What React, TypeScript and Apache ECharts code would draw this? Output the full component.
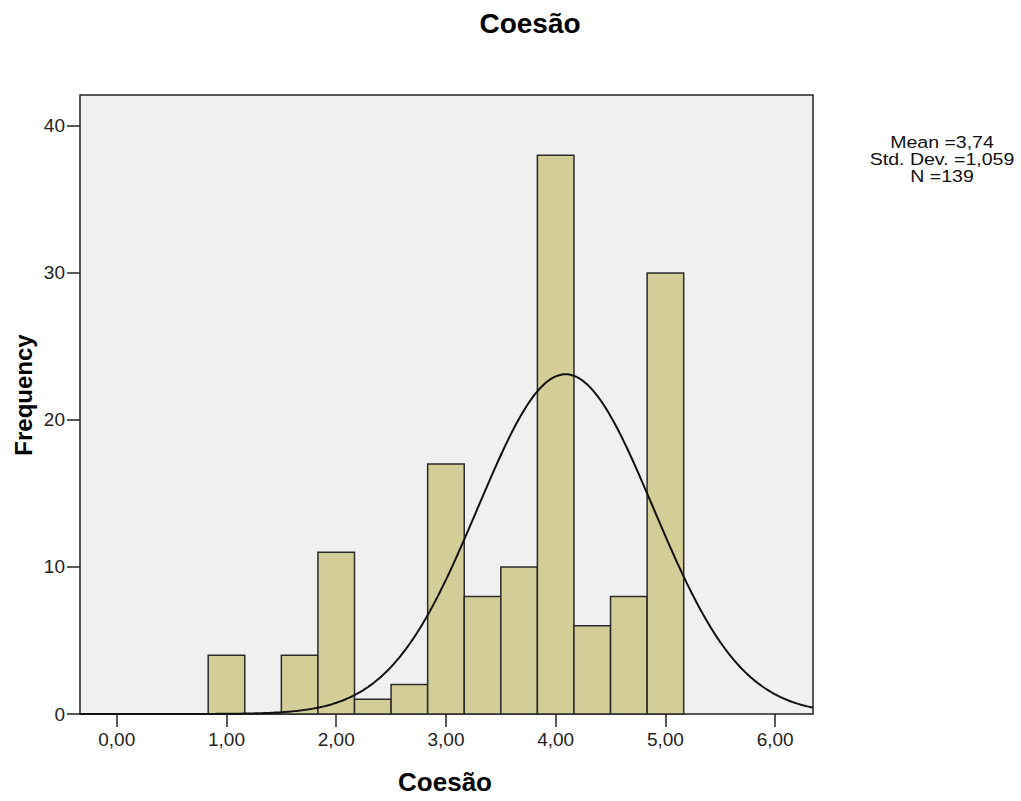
import React, { useEffect, useRef } from "react";
import * as echarts from "echarts";

// Histogram bins: lower edge of the first bin, common width, and counts per bin
const binStart = 0.8333;
const binWidth = 1 / 3;
const binCounts = [4, 0, 4, 11, 1, 2, 17, 8, 10, 38, 6, 8, 30];

// Fitted normal curve parameters as drawn
const curveMean = 4.09;
const curveSd = 0.8;
const sampleSize = 139;

// Axis tick values and summary statistics text
const xTicks = [0, 1, 2, 3, 4, 5, 6];
const yTicks = [0, 10, 20, 30, 40];
const statLines = ["Mean =3,74", "Std. Dev. =1,059", "N =139"];

const xMin = -0.335;
const xMax = 6.345;
const yMax = 42.1;

const FONT = '"Liberation Sans", Arial, sans-serif';

export default function App() {
  const ref = useRef<HTMLDivElement>(null);

  useEffect(() => {
    document.body.style.margin = "0";
    if (!ref.current) return;
    const chart = echarts.init(ref.current, null, { renderer: "svg" });

    const bars = binCounts.map((c, i) => [
      binStart + i * binWidth,
      binStart + (i + 1) * binWidth,
      c,
    ]);

    const peakScale = (sampleSize * binWidth) / (curveSd * Math.sqrt(2 * Math.PI));
    const curve: number[][] = [];
    const steps = 400;
    for (let i = 0; i <= steps; i++) {
      const x = xMin + ((xMax - xMin) * i) / steps;
      const z = (x - curveMean) / curveSd;
      curve.push([x, peakScale * Math.exp(-0.5 * z * z)]);
    }

    chart.setOption({
      animation: false,
      backgroundColor: "#ffffff",
      grid: {
        left: 80,
        top: 95,
        right: 208,
        bottom: 87,
        show: true,
        backgroundColor: "#F0F0F0",
        borderColor: "#222222",
        borderWidth: 1.5,
      },
      xAxis: {
        type: "value",
        min: xMin,
        max: xMax,
        splitLine: { show: false },
        axisLine: { show: false, onZero: false },
        axisTick: {
          show: true,
          length: 13,
          customValues: xTicks,
          lineStyle: { color: "#222222", width: 1.5 },
        },
        axisLabel: {
          customValues: xTicks,
          margin: 16,
          fontFamily: FONT,
          fontSize: 19,
          color: "#222222",
          formatter: (v: number) => v.toFixed(2).replace(".", ","),
        },
      },
      yAxis: {
        type: "value",
        min: 0,
        max: yMax,
        splitLine: { show: false },
        axisLine: { show: false, onZero: false },
        axisTick: {
          show: true,
          length: 13,
          customValues: yTicks,
          lineStyle: { color: "#222222", width: 1.5 },
        },
        axisLabel: {
          customValues: yTicks,
          margin: 15,
          fontFamily: FONT,
          fontSize: 19,
          color: "#222222",
        },
      },
      graphic: [
        {
          type: "text",
          x: 530,
          y: 23,
          style: {
            text: "Coesão",
            fontFamily: FONT,
            fontWeight: "bold",
            fontSize: 28,
            fill: "#000",
            align: "center",
            verticalAlign: "middle",
          },
        },
        {
          type: "text",
          x: 445,
          y: 782,
          style: {
            text: "Coesão",
            fontFamily: FONT,
            fontWeight: "bold",
            fontSize: 26,
            fill: "#000",
            align: "center",
            verticalAlign: "middle",
          },
        },
        {
          type: "text",
          x: 23,
          y: 395,
          rotation: Math.PI / 2,
          style: {
            text: "Frequency",
            fontFamily: FONT,
            fontWeight: "bold",
            fontSize: 24,
            fill: "#000",
            align: "center",
            verticalAlign: "middle",
          },
        },
        ...statLines.map((t, i) => ({
          type: "text",
          x: 942,
          y: 141.7 + i * 17.2,
          scaleX: 1.15,
          style: {
            text: t,
            fontFamily: FONT,
            fontSize: 17,
            fill: "#111",
            align: "center",
            verticalAlign: "middle",
          },
        })),
      ],
      series: [
        {
          type: "custom",
          data: bars,
          renderItem: (params: any, api: any) => {
            const p0 = api.coord([api.value(0), api.value(2)]);
            const p1 = api.coord([api.value(1), 0]);
            return {
              type: "rect",
              shape: { x: p0[0], y: p0[1], width: p1[0] - p0[0], height: p1[1] - p0[1] },
              style: { fill: "#D3CE97", stroke: "#2a2a2a", lineWidth: 1.5 },
            };
          },
          z: 2,
        },
        {
          type: "line",
          data: curve,
          showSymbol: false,
          symbol: "none",
          lineStyle: { color: "#111", width: 2 },
          z: 3,
        },
      ],
    });

    return () => chart.dispose();
  }, []);

  return <div ref={ref} style={{ width: 1021, height: 801 }} />;
}
